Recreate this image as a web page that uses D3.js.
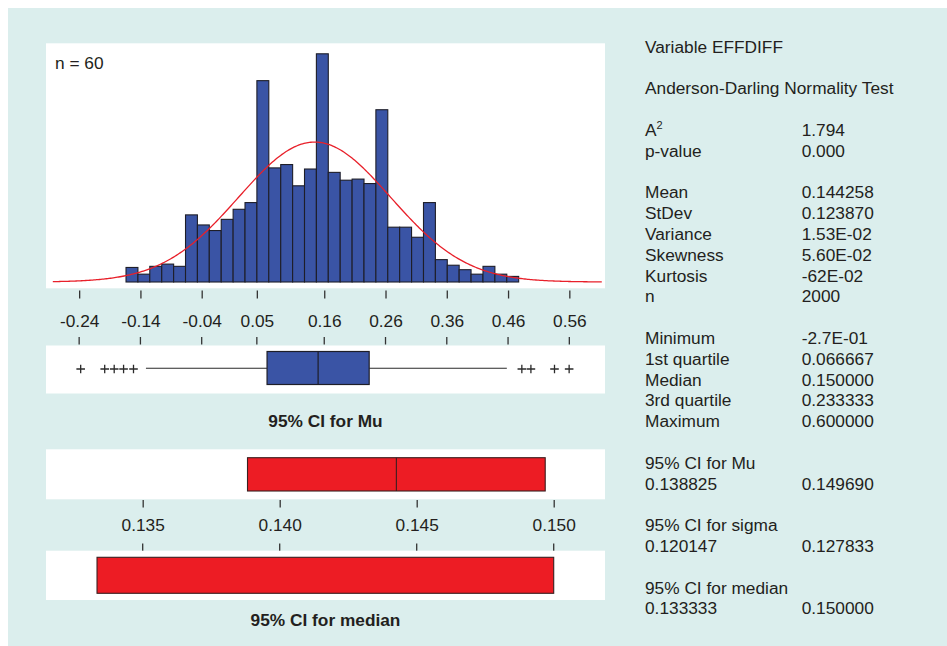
<!DOCTYPE html>
<html>
<head>
<meta charset="utf-8">
<script src="https://cdn.jsdelivr.net/npm/d3@7"></script>
<style>
  html, body { margin: 0; padding: 0; background: #ffffff; }
  svg { display: block; font-family: "Liberation Sans", Arial, Helvetica, sans-serif; }
</style>
</head>
<body>
<svg id="chart" width="947" height="646"></svg>
<script>
// ---- Histogram of EFFDIFF: class midpoints and counts ----
const binMids = [-0.1538, -0.1344, -0.1150, -0.0955, -0.0761, -0.0567, -0.0373, -0.0179,
                  0.0016,  0.0210,  0.0404,  0.0598,  0.0792,  0.0987,  0.1181,  0.1375,
                  0.1569,  0.1763,  0.1958,  0.2152,  0.2346,  0.2540,  0.2734,  0.2928,
                  0.3123,  0.3317,  0.3511,  0.3705,  0.3899,  0.4094,  0.4288,  0.4482, 0.4676];
const binWidth = 0.01942;
const binCounts = [13, 7, 14, 16, 14, 60, 51, 46, 56, 65, 71, 180, 102, 105, 86, 101,
                   204, 98, 91, 92, 88, 154, 49, 49, 40, 71, 20, 15, 11, 7, 14, 7, 5];
const histTicks = [-0.24, -0.14, -0.04, 0.05, 0.16, 0.26, 0.36, 0.46, 0.56];

// ---- Normal fit ----
const sampleSize = 2000;
const fitMean = 0.144258;
const fitStDev = 0.123870;
const curveSpan = [-0.283, 0.613];

// ---- Boxplot ----
const quartiles = [0.066667, 0.150000, 0.233333];
const whiskers = [-0.131, 0.458];
const outliers = [-0.2375, -0.1983, -0.1828, -0.1675, -0.1513, 0.4825, 0.4973, 0.5358, 0.5597];

// ---- Confidence intervals ----
const muCI = [0.138825, 0.149690];
const medianCI = [0.133333, 0.150000];
const ciTicks = [0.135, 0.140, 0.145, 0.150];

// ---- Summary table (row index, label, value) ----
const statRows = [
  [0, "Variable EFFDIFF", ""],
  [2, "Anderson-Darling Normality Test", ""],
  [4, "A²", "1.794"],
  [5, "p-value", "0.000"],
  [7, "Mean", "0.144258"],
  [8, "StDev", "0.123870"],
  [9, "Variance", "1.53E-02"],
  [10, "Skewness", "5.60E-02"],
  [11, "Kurtosis", "-62E-02"],
  [12, "n", "2000"],
  [14, "Minimum", "-2.7E-01"],
  [15, "1st quartile", "0.066667"],
  [16, "Median", "0.150000"],
  [17, "3rd quartile", "0.233333"],
  [18, "Maximum", "0.600000"],
  [20, "95% CI for Mu", ""],
  [21, "0.138825", "0.149690"],
  [23, "95% CI for sigma", ""],
  [24, "0.120147", "0.127833"],
  [26, "95% CI for median", ""],
  [27, "0.133333", "0.150000"]
];

const BG = "#dbeeed";
const BLUE = "#3a54a5";
const RED = "#ed1c24";
const INK = "#231f20";
const FS = 17.3;

const svg = d3.select("#chart");

// background
svg.append("rect").attr("x", 8).attr("y", 8).attr("width", 939).attr("height", 638).attr("fill", BG);

const panelL = 46, panelR = 605;

// x scale shared by histogram and boxplot
const x = d3.scaleLinear().domain([-0.29411, 0.61822]).range([panelL, panelR]);
// count scale for histogram
const baseY = 282;
const y = d3.scaleLinear().domain([0, 204]).range([baseY, 53.8]);

// plain hyphen for negative labels
const fmt = spec => d => d3.format(spec)(d).replace("−", "-");

// ---- Histogram panel ----
svg.append("rect").attr("x", panelL).attr("y", 43.3).attr("width", panelR - panelL).attr("height", 245)
  .attr("fill", "#ffffff");

svg.append("g").selectAll("rect").data(binMids).join("rect")
  .attr("x", d => x(d - binWidth / 2))
  .attr("y", (d, i) => y(binCounts[i]))
  .attr("width", d => x(d + binWidth / 2) - x(d - binWidth / 2))
  .attr("height", (d, i) => baseY - y(binCounts[i]))
  .attr("fill", BLUE)
  .attr("stroke", "#1e1e28")
  .attr("stroke-width", 1.1);

// fitted normal curve, scaled to counts per class
const pdfScale = sampleSize * binWidth / (fitStDev * Math.sqrt(2 * Math.PI));
const curvePts = d3.range(0, 401).map(k => {
  const v = curveSpan[0] + (curveSpan[1] - curveSpan[0]) * k / 400;
  const z = (v - fitMean) / fitStDev;
  return [v, pdfScale * Math.exp(-0.5 * z * z)];
});
svg.append("path")
  .datum(curvePts)
  .attr("d", d3.line().x(d => x(d[0])).y(d => y(d[1])))
  .attr("fill", "none")
  .attr("stroke", "#e8202a")
  .attr("stroke-width", 1.3);

svg.append("text").attr("x", 55).attr("y", 68.5).attr("font-size", FS).attr("fill", INK).text("n = 60");

// ---- Histogram / boxplot axis ----
const tickColor = "#333";
const axisTop = svg.append("g").attr("transform", "translate(0,290.5)")
  .call(d3.axisBottom(x).tickValues(histTicks).tickSize(8).tickFormat(fmt(".2f")));
axisTop.select(".domain").remove();
axisTop.selectAll("line").attr("stroke", tickColor).attr("stroke-width", 1.3);
axisTop.selectAll("text").attr("font-size", FS).attr("fill", INK)
  .attr("font-family", "Liberation Sans, Arial, sans-serif").attr("dy", null).attr("y", 36);

svg.append("g").selectAll("line").data(histTicks).join("line")
  .attr("x1", d => x(d)).attr("x2", d => x(d))
  .attr("y1", 337).attr("y2", 344.5)
  .attr("stroke", tickColor).attr("stroke-width", 1.3);

// ---- Boxplot panel ----
svg.append("rect").attr("x", panelL).attr("y", 345.5).attr("width", panelR - panelL).attr("height", 48)
  .attr("fill", "#ffffff");
const boxMid = 368.3;
svg.append("line").attr("x1", x(whiskers[0])).attr("x2", x(quartiles[0]))
  .attr("y1", boxMid).attr("y2", boxMid).attr("stroke", "#2a2a2a").attr("stroke-width", 1.1);
svg.append("line").attr("x1", x(quartiles[2])).attr("x2", x(whiskers[1]))
  .attr("y1", boxMid).attr("y2", boxMid).attr("stroke", "#2a2a2a").attr("stroke-width", 1.1);
svg.append("rect").attr("x", x(quartiles[0])).attr("y", 351.5)
  .attr("width", x(quartiles[2]) - x(quartiles[0])).attr("height", 33)
  .attr("fill", BLUE).attr("stroke", "#1e1e28").attr("stroke-width", 1.2);
svg.append("line").attr("x1", x(quartiles[1])).attr("x2", x(quartiles[1]))
  .attr("y1", 351.5).attr("y2", 384.5).attr("stroke", "#1e1e28").attr("stroke-width", 1.2);
svg.append("g").selectAll("path").data(outliers).join("path")
  .attr("d", d => `M${x(d) - 4.3},${boxMid + 0.7}H${x(d) + 4.3}M${x(d)},${boxMid - 3.6}V${boxMid + 5}`)
  .attr("stroke", "#2a2a2a").attr("stroke-width", 1.3).attr("fill", "none");

svg.append("text").attr("x", (panelL + panelR) / 2).attr("y", 426.5).attr("text-anchor", "middle")
  .attr("font-size", FS).attr("font-weight", "bold").attr("fill", INK).text("95% CI for Mu");

// ---- Confidence interval panels ----
const xc = d3.scaleLinear().domain([0.131471, 0.151872]).range([panelL, panelR]);

svg.append("rect").attr("x", panelL).attr("y", 449.3).attr("width", panelR - panelL).attr("height", 50)
  .attr("fill", "#ffffff");
svg.append("rect").attr("x", xc(muCI[0])).attr("y", 457.7)
  .attr("width", xc(muCI[1]) - xc(muCI[0])).attr("height", 33.3)
  .attr("fill", RED).attr("stroke", "#3a1f20").attr("stroke-width", 1.1);
svg.append("line").attr("x1", xc(fitMean)).attr("x2", xc(fitMean))
  .attr("y1", 457.7).attr("y2", 491).attr("stroke", "#3a1f20").attr("stroke-width", 1.1);

const axisCI = svg.append("g").attr("transform", "translate(0,500)")
  .call(d3.axisBottom(xc).tickValues(ciTicks).tickSize(7.5).tickFormat(fmt(".3f")));
axisCI.select(".domain").remove();
axisCI.selectAll("line").attr("stroke", tickColor).attr("stroke-width", 1.3);
axisCI.selectAll("text").attr("font-size", FS).attr("fill", INK)
  .attr("font-family", "Liberation Sans, Arial, sans-serif").attr("dy", null).attr("y", 30.5);

svg.append("g").selectAll("line").data(ciTicks).join("line")
  .attr("x1", d => xc(d)).attr("x2", d => xc(d))
  .attr("y1", 543.5).attr("y2", 551)
  .attr("stroke", tickColor).attr("stroke-width", 1.3);

svg.append("rect").attr("x", panelL).attr("y", 550.7).attr("width", panelR - panelL).attr("height", 49.3)
  .attr("fill", "#ffffff");
svg.append("rect").attr("x", xc(medianCI[0])).attr("y", 557.3)
  .attr("width", xc(medianCI[1]) - xc(medianCI[0])).attr("height", 36)
  .attr("fill", RED).attr("stroke", "#3a1f20").attr("stroke-width", 1.1);

svg.append("text").attr("x", (panelL + panelR) / 2).attr("y", 626).attr("text-anchor", "middle")
  .attr("font-size", FS).attr("font-weight", "bold").attr("fill", INK).text("95% CI for median");

// ---- Summary statistics column ----
const rowY = r => 52.7 + 20.8 * r;
const table = svg.append("g").attr("font-size", FS).attr("fill", INK);
statRows.forEach(([r, label, value]) => {
  const t = table.append("text").attr("x", 645).attr("y", rowY(r));
  if (label === "A²") {
    t.append("tspan").text("A");
    t.append("tspan").attr("font-size", 11).attr("dy", -7).text("2");
  } else {
    t.text(label);
  }
  if (value) table.append("text").attr("x", 801.7).attr("y", rowY(r)).text(value);
});
</script>
</body>
</html>
